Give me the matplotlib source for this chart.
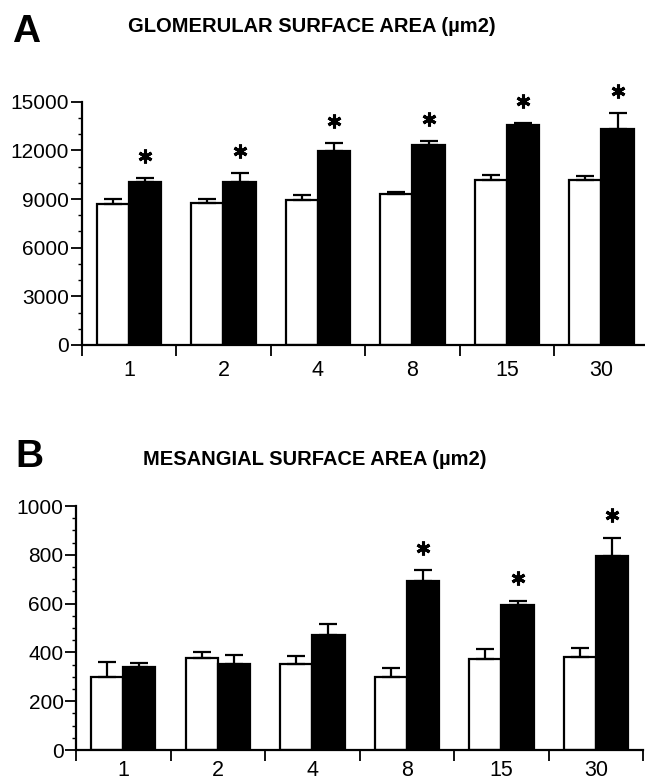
import numpy as np
import matplotlib.pyplot as plt
from matplotlib.transforms import offset_copy
from matplotlib.ticker import MultipleLocator

plt.rcParams['font.family'] = ['Liberation Sans', 'DejaVu Sans']

days = ['1', '2', '4', '8', '15', '30']

# Panel A: glomerular surface area (um2)
glom_ctrl = [8700, 8750, 8950, 9340, 10170, 10170]
glom_ctrl_err = [310, 240, 310, 100, 340, 280]
glom_trt = [10080, 10020, 11980, 12300, 13540, 13320]
glom_trt_err = [190, 560, 490, 270, 160, 960]
glom_sig = [True, True, True, True, True, True]

# Panel B: mesangial surface area (um2)
mes_ctrl = [300, 376, 351, 300, 373, 381]
mes_ctrl_err = [62, 26, 34, 36, 40, 38]
mes_trt = [340, 351, 471, 693, 596, 797]
mes_trt_err = [17, 37, 45, 43, 16, 73]
mes_sig = [False, False, False, True, True, True]

W, H = 645, 783
fig = plt.figure(figsize=(W / 100, H / 100), dpi=100)


def panel(rect, ctrl, ctrl_err, trt, trt_err, sig, ymax, ystep, yminor, xpad):
    ax = fig.add_axes(rect)
    x = np.arange(len(days))
    bw = 0.34
    kw = dict(width=bw, edgecolor='black', linewidth=1.6, zorder=2,
              error_kw=dict(ecolor='black', elinewidth=1.6, capsize=6.5, capthick=1.6))
    ax.bar(x - bw / 2, ctrl, color='white',
           yerr=[np.zeros(len(x)), ctrl_err], **kw)
    ax.bar(x + bw / 2, trt, color='black',
           yerr=[np.zeros(len(x)), trt_err], **kw)
    # asterisks sit a fixed distance above the treated error bar
    star_tr = offset_copy(ax.transData, fig=fig, x=0, y=16, units='points')
    for i in range(len(x)):
        if sig[i]:
            ax.plot(x[i] + bw / 2, trt[i] + trt_err[i], marker=(6, 2, 0),
                    markersize=10, markeredgewidth=2.2, color='black',
                    transform=star_tr, clip_on=False)
    ax.set_xlim(-0.5, len(x) - 0.5)
    ax.set_ylim(0, ymax)
    ax.set_xticks(np.arange(len(x) + 1) - 0.5)
    ax.set_xticklabels([])
    ax.set_xticks(x, minor=True)
    ax.set_xticklabels(days, minor=True)
    ax.tick_params(axis='x', which='major', direction='out', length=8, width=1.3)
    ax.tick_params(axis='x', which='minor', length=0, pad=xpad, labelsize=15.5)
    ax.yaxis.set_major_locator(MultipleLocator(ystep))
    ax.yaxis.set_minor_locator(MultipleLocator(yminor))
    ax.tick_params(axis='y', which='major', direction='out', length=8,
                   width=1.3, pad=1, labelsize=15)
    ax.tick_params(axis='y', which='minor', direction='out', length=3, width=1.0)
    for s in ['top', 'right']:
        ax.spines[s].set_visible(False)
    for s in ['left', 'bottom']:
        ax.spines[s].set_linewidth(1.6)
    return ax


panel([81.7 / W, 1 - 345 / H, 567 / W, 243.3 / H],
      glom_ctrl, glom_ctrl_err, glom_trt, glom_trt_err, glom_sig,
      15000, 3000, 1000, 11)
panel([76 / W, 1 - 750 / H, 567.3 / W, 244 / H],
      mes_ctrl, mes_ctrl_err, mes_trt, mes_trt_err, mes_sig,
      1000, 200, 50, 7)

fig.text(12 / W, 1 - 42 / H, 'A', fontsize=28, fontweight='bold', va='baseline')
fig.text(128 / W, 1 - 31.5 / H, 'GLOMERULAR SURFACE AREA (µm2)',
         fontsize=14.5, fontweight='bold', va='baseline')
fig.text(15 / W, 1 - 467 / H, 'B', fontsize=28, fontweight='bold', va='baseline')
fig.text(143 / W, 1 - 465 / H, 'MESANGIAL SURFACE AREA (µm2)',
         fontsize=14.5, fontweight='bold', va='baseline')

fig.savefig('out.png', dpi=100)
